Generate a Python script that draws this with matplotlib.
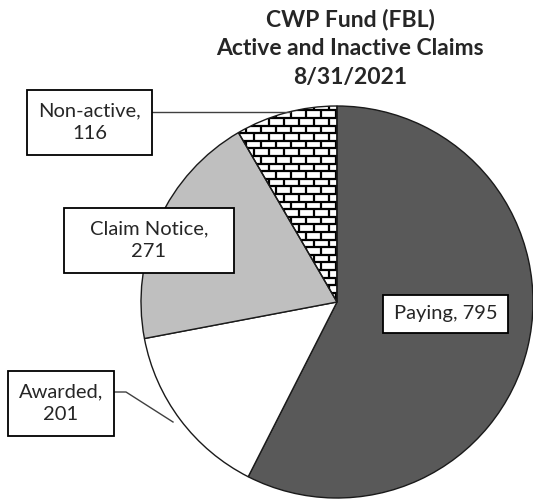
import matplotlib
matplotlib.use("Agg")
import matplotlib.pyplot as plt
from matplotlib.collections import LineCollection
from matplotlib.patches import Rectangle

labels = ["Paying", "Awarded", "Claim Notice", "Non-active"]
values = [795, 201, 271, 116]
colors = ["#595959", "#ffffff", "#bfbfbf", "#ffffff"]
title = "CWP Fund (FBL)\nActive and Inactive Claims\n8/31/2021"

plt.rcParams["font.family"] = ["Lato", "DejaVu Sans"]

W, H = 533, 504
fig = plt.figure(figsize=(W / 100, H / 100), dpi=100)
ax = fig.add_axes([0, 0, 1, 1])

cx, cy, r = 337, H - 302, 196
wedges, _ = ax.pie(values, colors=colors, startangle=90, counterclock=False,
                   center=(cx, cy), radius=r, frame=True,
                   wedgeprops=dict(edgecolor="#1a1a1a", linewidth=1.0))
ax.set_xlim(0, W)
ax.set_ylim(0, H)
ax.set_aspect("equal")
ax.axis("off")

# brick pattern for the Non-active slice
bw, bh = 15.0, 7.6
segs = []
y0 = cy - r
rows = int(2 * r / bh) + 2
for i in range(rows):
    y = y0 + i * bh
    segs.append([(cx - r, y), (cx + r, y)])
    off = 0 if i % 2 == 0 else bw / 2
    x = cx - r + off
    while x < cx + r:
        segs.append([(x, y), (x, y + bh)])
        x += bw
lc = LineCollection(segs, colors="black", linewidths=1.6, zorder=2)
ax.add_collection(lc)
lc.set_clip_path(wedges[3])
wedges[3].set_facecolor("none")
wedges[3].set_zorder(3)

# label boxes: (left, top, right, bottom) in pixels from the top
boxes = [(383, 295, 508, 333), (8, 371, 114, 436), (64, 208, 234, 273), (27, 90, 152, 155)]
lab_txt = ["%s, %d" % (labels[0], values[0]),
           "%s,\n%d" % (labels[1], values[1]),
           "%s,\n%d" % (labels[2], values[2]),
           "%s,\n%d" % (labels[3], values[3])]
for (l, t, rr, b), txt in zip(boxes, lab_txt):
    ax.add_patch(Rectangle((l, H - b), rr - l, b - t, facecolor="white",
                           edgecolor="black", linewidth=1.3, zorder=5))
    ax.text((l + rr) / 2, H - (t + b) / 2, txt, ha="center", va="center",
            fontsize=14.5, color="#262626", linespacing=1.4, zorder=6)

# leader lines
ax.plot([152, 290], [H - 112, H - 112], color="#404040", lw=1, zorder=4)
ax.plot([114, 126, 173], [H - 392, H - 392, H - 422], color="#404040", lw=1, zorder=4)

ax.text(350, H - 48, title, ha="center", va="center", fontsize=16.5,
        fontweight="bold", color="#262626", linespacing=1.45)

fig.savefig("out.png", dpi=100)
